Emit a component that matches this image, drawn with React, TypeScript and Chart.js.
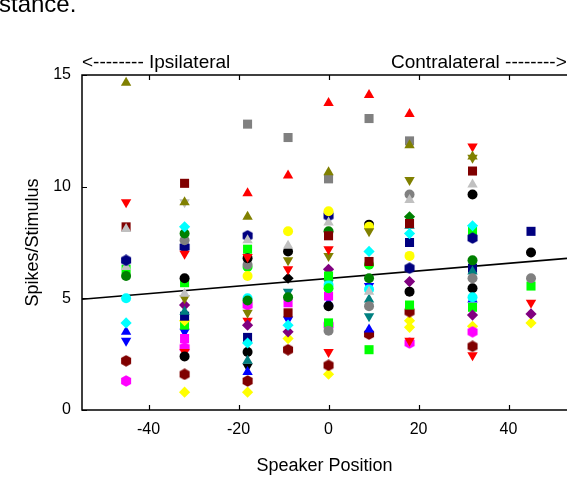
import React, { useEffect, useRef } from "react";
import { Chart, registerables } from "chart.js";

Chart.register(...registerables);

// Speaker positions (degrees) at which every unit was tested
const positions = [-45, -32, -18, -9, 0, 9, 18, 32, 45];
const xTicks = [-40, -20, 0, 20, 40];
const yTicks = [0, 5, 10, 15];

// Spikes/Stimulus per unit, aligned with `positions` (null = not tested)
const redUp = [null, null, 9.7, 10.5, 13.75, 14.1, 13.25, null, null];
const redDown = [9.3, 7.0, 6.85, 6.3, 7.2, null, null, 11.8, 4.8];
const redDown2 = [null, 2.6, 4.0, null, 2.6, null, 3.1, 2.45, null];
const oliveUp = [14.65, 9.3, 8.65, null, 10.65, null, 11.85, 11.35, null];
const oliveDown = [null, 5.0, 4.35, 6.7, 6.9, 8.0, 10.3, 11.3, null];
const silverUp = [8.1, 5.2, 7.6, 7.35, 8.4, 5.3, 9.4, 10.1, null];
const silverUp2 = [6.4, null, null, null, null, null, null, null, null];
const silverDown = [null, 9.3, null, null, null, null, null, null, null];
const maroonSquare = [8.2, 10.15, null, 4.35, 7.8, 6.65, 8.35, 10.7, null];
const graySquare = [null, null, 12.8, 12.2, 10.35, 13.05, 12.05, null, null];
const limeSquare = [6.3, 5.7, 7.2, null, 6.0, null, 4.7, 8.0, 5.55];
const limeSquare2 = [null, 3.8, null, null, 3.9, 2.7, null, 4.6, null];
const limeCircle = [null, null, 6.4, null, 5.45, 6.5, null, null, null];
const navySquare = [null, 4.2, 3.25, null, null, null, 7.5, 6.35, 8.0];
const magentaSquare = [null, 3.2, null, 4.8, 5.1, null, null, null, null];
const blueDown = [3.1, 3.5, null, 4.05, null, 5.55, null, null, null];
const blueUp = [3.5, null, 1.7, null, 4.8, 3.6, null, 4.95, null];
const cyanDiamond = [3.9, 8.2, 3.0, 3.8, null, 7.1, 7.9, 8.25, null];
const cyanCircle = [5.0, null, 5.0, null, 5.6, 5.4, null, 5.05, null];
const yellowDiamond = [null, 0.8, 0.8, 3.2, 1.6, null, 4.0, 3.75, 3.9];
const yellowDiamond2 = [null, 4.0, null, null, null, null, 3.7, null, null];
const yellowCircle = [null, null, 6.0, 8.0, 8.9, 8.2, 6.9, null, null];
const blackCircle = [null, 5.9, 6.8, 7.1, 4.65, 8.3, 5.3, 9.65, 7.05];
const blackCircle2 = [null, 2.4, 2.6, null, null, null, null, 5.45, null];
const blackDown = [null, null, 1.95, null, null, null, null, null, null];
const blackDiamond = [null, null, null, 5.9, null, null, null, null, null];
const greenCircle = [6.0, 7.9, 4.9, 5.05, 8.0, 5.9, null, 6.7, null];
const greenDiamond = [null, null, null, null, null, null, 8.65, null, null];
const grayCircle = [null, 7.6, 6.5, null, 3.55, 4.65, 9.65, 5.9, 5.9];
const navyHex = [6.7, 7.3, 7.8, null, 8.7, null, 6.35, 7.7, null];
const maroonHex = [2.2, 1.6, 1.3, 2.7, 2.0, 3.4, 4.4, 2.85, null];
const magentaHex = [1.3, 2.8, 4.7, null, 3.8, null, 3.0, 3.5, null];
const purpleDiamond = [null, 4.7, 3.8, 3.5, 6.3, null, 5.75, 4.25, 4.3];
const tealDown = [null, null, null, 5.3, 5.7, 4.2, null, null, null];
const tealUp = [null, 4.4, 2.2, null, null, 4.95, 8.25, 6.2, null];

// Regression line end points
const fitX = [-54.8, 53];
const fitY = [4.96, 6.79];

const series = [
  { label: "oliveUp", color: "#808000", shape: "up", values: oliveUp },
  { label: "silverUp", color: "#c0c0c0", shape: "up", values: silverUp },
  { label: "redUp", color: "#ff0000", shape: "up", values: redUp },
  { label: "redDown", color: "#ff0000", shape: "down", values: redDown },
  { label: "silverDown", color: "#c0c0c0", shape: "down", values: silverDown },
  { label: "graySquare", color: "#808080", shape: "square", values: graySquare },
  { label: "maroonSquare", color: "#800000", shape: "square", values: maroonSquare },
  { label: "oliveDown", color: "#808000", shape: "down", values: oliveDown },
  { label: "yellowCircle", color: "#ffff00", shape: "circle", values: yellowCircle },
  { label: "blackCircle", color: "#000000", shape: "circle", values: blackCircle },
  { label: "cyanDiamond", color: "#00ffff", shape: "diamond", values: cyanDiamond },
  { label: "greenDiamond", color: "#008000", shape: "diamond", values: greenDiamond },
  { label: "greenCircle", color: "#008000", shape: "circle", values: greenCircle },
  { label: "grayCircle", color: "#808080", shape: "circle", values: grayCircle },
  { label: "navyHex", color: "#000080", shape: "hex", values: navyHex },
  { label: "silverUp2", color: "#c0c0c0", shape: "up", values: silverUp2 },
  { label: "limeSquare", color: "#00ff00", shape: "square", values: limeSquare },
  { label: "limeCircle", color: "#00ff00", shape: "circle", values: limeCircle },
  { label: "cyanCircle", color: "#00ffff", shape: "circle", values: cyanCircle },
  { label: "tealUp", color: "#008080", shape: "up", values: tealUp },
  { label: "tealDown", color: "#008080", shape: "down", values: tealDown },
  { label: "blackDiamond", color: "#000000", shape: "diamond", values: blackDiamond },
  { label: "purpleDiamond", color: "#800080", shape: "diamond", values: purpleDiamond },
  { label: "navySquare", color: "#000080", shape: "square", values: navySquare },
  { label: "magentaSquare", color: "#ff00ff", shape: "square", values: magentaSquare },
  { label: "yellowDiamond2", color: "#ffff00", shape: "diamond", values: yellowDiamond2 },
  { label: "limeSquare2", color: "#00ff00", shape: "square", values: limeSquare2 },
  { label: "blueUp", color: "#0000ff", shape: "up", values: blueUp },
  { label: "blueDown", color: "#0000ff", shape: "down", values: blueDown },
  { label: "blackCircle2", color: "#000000", shape: "circle", values: blackCircle2 },
  { label: "redDown2", color: "#ff0000", shape: "down", values: redDown2 },
  { label: "blackDown", color: "#000000", shape: "down", values: blackDown },
  { label: "magentaHex", color: "#ff00ff", shape: "hex", values: magentaHex },
  { label: "maroonHex", color: "#800000", shape: "hex", values: maroonHex },
  { label: "yellowDiamond", color: "#ffff00", shape: "diamond", values: yellowDiamond },
];

const FONT = '"Liberation Sans", Arial, Helvetica, sans-serif';

function makeHex(color: string) {
  const c = document.createElement("canvas");
  c.width = 12;
  c.height = 12;
  const g = c.getContext("2d")!;
  g.fillStyle = color;
  g.beginPath();
  for (let i = 0; i < 6; i++) {
    const a = -Math.PI / 2 + (i * Math.PI) / 3;
    const px = 6 + Math.cos(a) * 5.8;
    const py = 6 + Math.sin(a) * 5.8;
    if (i === 0) g.moveTo(px, py);
    else g.lineTo(px, py);
  }
  g.closePath();
  g.fill();
  return c;
}

function markerStyle(shape: string, color: string) {
  switch (shape) {
    case "up":
      return { pointStyle: "triangle", pointRadius: 6, pointRotation: 0 };
    case "down":
      return { pointStyle: "triangle", pointRadius: 6, pointRotation: 180 };
    case "square":
      return { pointStyle: "rect", pointRadius: 6.4, pointRotation: 0 };
    case "diamond":
      return { pointStyle: "rectRot", pointRadius: 5.6, pointRotation: 0 };
    case "hex":
      return { pointStyle: makeHex(color), pointRadius: 6, pointRotation: 0 };
    default:
      return { pointStyle: "circle", pointRadius: 5, pointRotation: 0 };
  }
}

const framePlugin = {
  id: "frame",
  beforeDatasetsDraw(chart: any) {
    const { ctx, chartArea, scales } = chart;
    const { left, right, top, bottom } = chartArea;
    ctx.save();
    ctx.strokeStyle = "#000";
    ctx.lineWidth = 1.5;
    ctx.beginPath();
    ctx.moveTo(right + 2, top);
    ctx.lineTo(left, top);
    ctx.lineTo(left, bottom);
    ctx.lineTo(right + 2, bottom);
    ctx.stroke();
    ctx.lineWidth = 1.2;
    ctx.beginPath();
    for (const v of xTicks) {
      const px = Math.round(scales.x.getPixelForValue(v)) + 0.5;
      ctx.moveTo(px, bottom);
      ctx.lineTo(px, bottom - 5);
      ctx.moveTo(px, top);
      ctx.lineTo(px, top + 5);
    }
    for (const v of yTicks) {
      const py = Math.round(scales.y.getPixelForValue(v)) + 0.5;
      ctx.moveTo(left, py);
      ctx.lineTo(left + 5, py);
    }
    ctx.stroke();
    ctx.restore();
  },
  afterDraw(chart: any) {
    const { ctx, chartArea } = chart;
    ctx.save();
    ctx.fillStyle = "#000";
    ctx.textBaseline = "alphabetic";
    ctx.textAlign = "left";
    ctx.font = `19px ${FONT}`;
    ctx.fillText("<-------- Ipsilateral", chartArea.left, 68);
    ctx.fillText("Contralateral -------->", 391, 68);
    ctx.font = `24px ${FONT}`;
    ctx.fillText("stance.", -1, 12);
    ctx.restore();
  },
};

export default function App() {
  const ref = useRef<HTMLCanvasElement>(null);

  useEffect(() => {
    const canvas = ref.current;
    if (!canvas) return;

    const datasets: any[] = series.map((s) => {
      const st = markerStyle(s.shape, s.color);
      return {
        type: "scatter",
        label: s.label,
        data: positions
          .map((x, i) => (s.values[i] == null ? null : { x, y: s.values[i] }))
          .filter((p) => p !== null),
        backgroundColor: s.color,
        borderColor: s.color,
        borderWidth: 0,
        pointBorderWidth: 0,
        pointStyle: st.pointStyle,
        pointRadius: st.pointRadius,
        pointHoverRadius: st.pointRadius,
        pointRotation: st.pointRotation,
      };
    });

    datasets.push({
      type: "line",
      label: "fit",
      data: fitX.map((x, i) => ({ x, y: fitY[i] })),
      borderColor: "#000",
      borderWidth: 1.6,
      pointRadius: 0,
      fill: false,
      tension: 0,
    });

    const chart = new Chart(canvas, {
      type: "scatter",
      data: { datasets },
      options: {
        responsive: false,
        animation: false,
        devicePixelRatio: 1,
        layout: { autoPadding: false, padding: { left: 0, right: 0, top: 75, bottom: 0 } },
        plugins: {
          legend: { display: false },
          tooltip: { enabled: false },
        },
        scales: {
          x: {
            type: "linear",
            min: -54.8,
            max: 53,
            grid: { display: false, drawTicks: false },
            border: { display: false },
            afterBuildTicks: (s: any) => {
              s.ticks = xTicks.map((v) => ({ value: v }));
            },
            afterFit: (s: any) => {
              s.height = 70;
              s.paddingLeft = 0;
              s.paddingRight = 0;
            },
            ticks: {
              color: "#000",
              padding: 10,
              font: { size: 16, family: FONT },
              maxRotation: 0,
            },
            title: {
              display: true,
              text: "Speaker Position",
              color: "#000",
              font: { size: 18, family: FONT },
              padding: { top: 0, bottom: 3 },
            },
          },
          y: {
            type: "linear",
            min: 0,
            max: 15,
            grid: { display: false, drawTicks: false },
            border: { display: false },
            afterBuildTicks: (s: any) => {
              s.ticks = yTicks.map((v) => ({ value: v }));
            },
            afterFit: (s: any) => {
              s.width = 82;
              s.paddingTop = 0;
              s.paddingBottom = 0;
            },
            ticks: {
              color: "#000",
              padding: 11,
              font: { size: 16, family: FONT },
            },
            title: {
              display: true,
              text: "Spikes/Stimulus",
              color: "#000",
              font: { size: 18, family: FONT },
              padding: { top: 22, bottom: 0 },
            },
          },
        },
      },
      plugins: [framePlugin],
    } as any);

    return () => chart.destroy();
  }, []);

  return (
    <div style={{ position: "absolute", left: 0, top: 0, width: 567, height: 480, background: "#fff" }}>
      <canvas ref={ref} width={567} height={480} style={{ display: "block", width: 567, height: 480 }} />
    </div>
  );
}
